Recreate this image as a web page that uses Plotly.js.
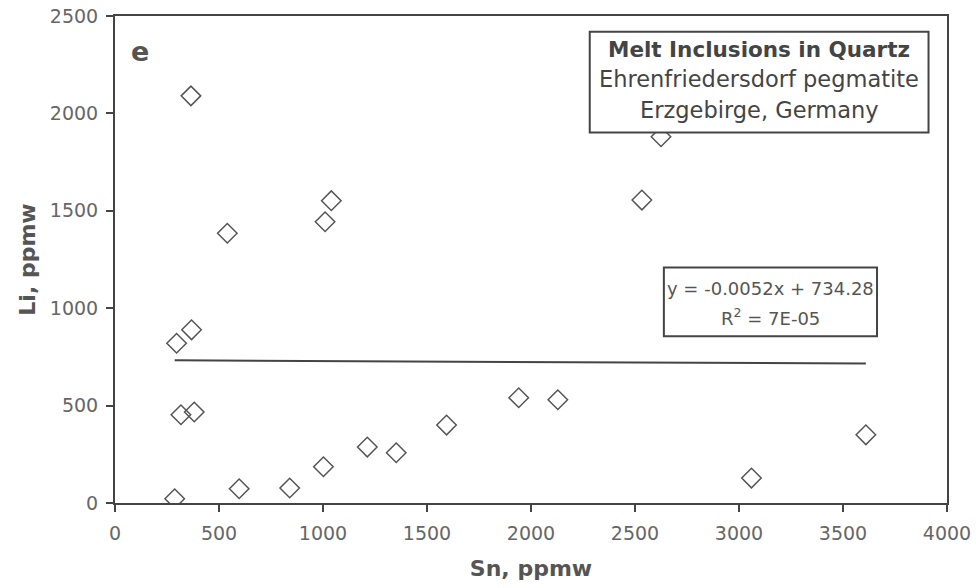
<!DOCTYPE html>
<html>
<head>
<meta charset="utf-8">
<script src="https://cdn.plot.ly/plotly-3.0.1.min.js"></script>
<style>html,body{margin:0;padding:0;background:#fff;}#chart{width:976px;height:588px;}</style>
</head>
<body>
<div id="chart"></div>
<script>
// Data
var snPpmw = [365, 540, 1010, 1040, 2533, 2625, 296, 368, 317, 381, 287, 597, 840, 1002, 1213, 1352, 1594, 1941, 2129, 3060, 3610];
var liPpmw = [2090, 1385, 1444, 1552, 1555, 1880, 820, 889, 453, 467, 22, 73, 77, 186, 287, 258, 400, 540, 530, 128, 350];
var trendSlope = -0.0052;
var trendIntercept = 734.28;
var xTicks = [0, 500, 1000, 1500, 2000, 2500, 3000, 3500, 4000];
var yTicks = [0, 500, 1000, 1500, 2000, 2500];
var panelLabel = 'e';
var boxLines = ['Melt Inclusions in Quartz', 'Ehrenfriedersdorf pegmatite', 'Erzgebirge, Germany'];
var eqLines = ['y = -0.0052x + 734.28', 'R<sup>2</sup> = 7E-05'];

var xMin = Math.min.apply(null, snPpmw), xMax = Math.max.apply(null, snPpmw);
var trendX = [xMin, xMax];
var trendY = trendX.map(function (v) { return trendSlope * v + trendIntercept; });

var grey = '#555';
var F = 'DejaVu Sans, Arial, sans-serif';

var traces = [
  {
    x: trendX, y: trendY, type: 'scatter', mode: 'lines',
    line: {color: '#444', width: 2}, hoverinfo: 'skip', showlegend: false
  },
  {
    x: snPpmw, y: liPpmw, type: 'scatter', mode: 'markers',
    marker: {symbol: 'diamond-open', size: 15, color: grey, line: {color: grey, width: 1.5}},
    showlegend: false
  }
];

var axisCommon = {
  showgrid: false, zeroline: false, showline: true, linecolor: '#444', linewidth: 2,
  mirror: true, ticks: 'outside', ticklen: 7, tickwidth: 2, tickcolor: '#444',
  tickfont: {family: F, size: 19, color: '#666'}
};

var layout = {
  width: 976, height: 588,
  margin: {l: 114.5, r: 29, t: 16, b: 84.5},
  paper_bgcolor: '#fff', plot_bgcolor: '#fff',
  xaxis: Object.assign({}, axisCommon, {
    range: [0, 4000], tickvals: xTicks, ticktext: xTicks.map(String), ticklabelstandoff: 5,
    title: {text: 'Sn, ppmw', font: {family: F, size: 22, color: grey, weight: 'bold'}, standoff: 18}
  }),
  yaxis: Object.assign({}, axisCommon, {
    range: [0, 2500], tickvals: yTicks, ticktext: yTicks.map(String), ticklabelstandoff: 4,
    title: {text: 'Li, ppmw', font: {family: F, size: 22, color: grey, weight: 'bold'}, standoff: 8}
  }),
  shapes: [
    {type: 'rect', xref: 'paper', yref: 'paper', x0: 0.5706, x1: 0.9778, y0: 0.7606, y1: 0.9678,
     line: {color: '#444', width: 2}, fillcolor: '#fff', layer: 'above'},
    {type: 'rect', xref: 'paper', yref: 'paper', x0: 0.6597, x1: 0.9159, y0: 0.3422, y1: 0.4837,
     line: {color: '#444', width: 2}, fillcolor: '#fff', layer: 'above'}
  ],
  annotations: [
    {xref: 'paper', yref: 'paper', x: 0.0306, y: 0.9268, xanchor: 'center', yanchor: 'middle',
     text: '<b>' + panelLabel + '</b>', showarrow: false, font: {family: F, size: 27, color: grey}},
    {xref: 'paper', yref: 'paper', x: 0.7742, y: 0.9317, xanchor: 'center', yanchor: 'middle',
     text: '<b>' + boxLines[0] + '</b>', showarrow: false, font: {family: F, size: 21.5, color: '#444'}},
    {xref: 'paper', yref: 'paper', x: 0.7742, y: 0.8697, xanchor: 'center', yanchor: 'middle',
     text: boxLines[1], showarrow: false, font: {family: F, size: 22.5, color: '#444'}},
    {xref: 'paper', yref: 'paper', x: 0.7742, y: 0.8072, xanchor: 'center', yanchor: 'middle',
     text: boxLines[2], showarrow: false, font: {family: F, size: 22.5, color: '#444'}},
    {xref: 'paper', yref: 'paper', x: 0.7878, y: 0.4414, xanchor: 'center', yanchor: 'middle',
     text: eqLines[0], showarrow: false, font: {family: F, size: 18, color: '#555'}},
    {xref: 'paper', yref: 'paper', x: 0.7878, y: 0.382, xanchor: 'center', yanchor: 'middle',
     text: eqLines[1], showarrow: false, font: {family: F, size: 18, color: '#555'}}
  ]
};

Plotly.newPlot('chart', traces, layout, {displayModeBar: false, staticPlot: true});
</script>
</body>
</html>
